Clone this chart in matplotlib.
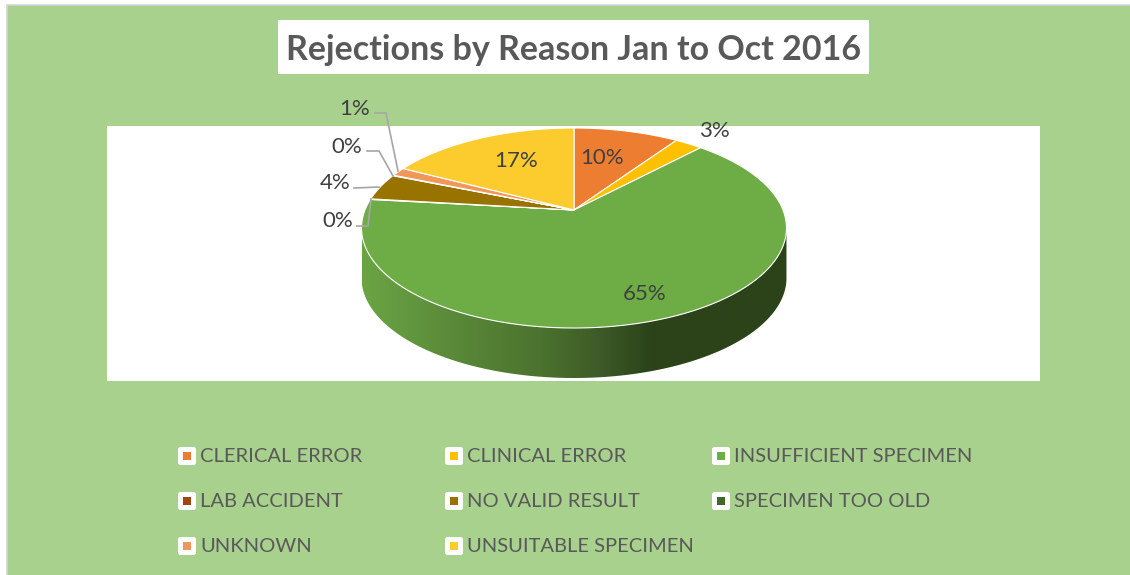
"""
Rejections by reason, drawn as a tilted 3D-looking pie on a pixel-sized canvas.
"""

import numpy as np
import matplotlib
matplotlib.use("Agg")
import matplotlib.pyplot as plt
from matplotlib.colors import LinearSegmentedColormap
from matplotlib.patches import FancyBboxPatch, Polygon, Rectangle

# ── Data ───────────────────────────────────────────────────────────────────────
reasons = ["CLERICAL ERROR", "CLINICAL ERROR", "INSUFFICIENT SPECIMEN",
           "LAB ACCIDENT", "NO VALID RESULT", "SPECIMEN TOO OLD",
           "UNKNOWN", "UNSUITABLE SPECIMEN"]
shares = [9.5, 2.5, 64.7, 0.1, 4.3, 0.1, 1.4, 17.3]
share_labels = ["10%", "3%", "65%", "0%", "4%", "0%", "1%", "17%"]
title = "Rejections by Reason Jan to Oct 2016"

# ── Style and layout ───────────────────────────────────────────────────────────
colors = ["#ED7D31", "#FFC000", "#6EAC46", "#9E480E",
          "#997300", "#43682B", "#F1975A", "#FCCB2E"]
FONT = "Lato"
BG = "#A9D18E"
LEGEND_TEXT = "#595959"
LABEL_TEXT = "#404040"
LEADER = "#A6A6A6"

label_xy = [(602, 158), (714, 131), (645, 294), (338, 221),
            (335, 183), (347, 147), (355, 109), (516, 161)]
leaders = {
    3: [(357, 226), (368, 226), (371, 199)],
    4: [(354, 188), (379, 187)],
    5: [(367, 151), (379, 151), (393, 176)],
    6: [(375, 113), (386, 113), (398, 171)],
}
legend_x = [178, 445, 712]
legend_y = [456, 501, 546]

# pie geometry in pixels
CX, CY = 574, 210
A, B, K = 209.0, 96.76, 0.18   # half width, half height, perspective strength
DEPTH = 50


def project(theta):
    """Map clockwise-from-top angles (radians) onto the tilted disc."""
    u, v = np.sin(theta), np.cos(theta)
    w = 1 + K * v
    return CX + A * u / w, CY - B * v / w


# ── Canvas ─────────────────────────────────────────────────────────────────────
fig = plt.figure(figsize=(11.3, 5.75), dpi=100, facecolor="white")
ax = fig.add_axes([0, 0, 1, 1])
ax.axis("off")

ax.add_patch(Rectangle((6.5, 4.5), 1130, 580, facecolor=BG,
                       edgecolor="#D4D4D4", linewidth=1.2))
ax.add_patch(Rectangle((107, 126), 933, 255, facecolor="white", edgecolor="none"))
ax.add_patch(Rectangle((278, 20), 591, 54, facecolor="white", edgecolor="none"))
ax.text(573.5, 49.5, title, fontsize=24.5, fontweight="bold", family=FONT,
        color=LEGEND_TEXT, ha="center", va="center")

# ── Pie side wall ──────────────────────────────────────────────────────────────
ring = np.linspace(0, 2 * np.pi, 721)
ring_x, ring_y = project(ring)
right, left = ring_x.argmax(), ring_x.argmin()
arc_x, arc_y = ring_x[right:left + 1], ring_y[right:left + 1]
wall = np.column_stack([np.r_[arc_x, arc_x[::-1]],
                        np.r_[arc_y, arc_y[::-1] + DEPTH]])
wall_patch = Polygon(wall, closed=True, facecolor="none", edgecolor="none")
ax.add_patch(wall_patch)

shade = LinearSegmentedColormap.from_list(
    "wall", [(0.0, "#6AA544"), (0.2, "#5B8B3A"), (0.42, "#4B722E"),
             (0.55, "#3E5C28"), (0.68, "#2C431A"), (1.0, "#2C431A")])
img = ax.imshow(np.linspace(0, 1, 256)[None, :], cmap=shade, aspect="auto",
                extent=(arc_x.min(), arc_x.max(), arc_y.max() + DEPTH, arc_y.min()),
                zorder=2)
img.set_clip_path(wall_patch)

# ── Pie top ────────────────────────────────────────────────────────────────────
edges = np.r_[0, np.cumsum(shares)] / np.sum(shares) * 2 * np.pi
for start, end, color in zip(edges[:-1], edges[1:], colors):
    t = np.linspace(start, end, max(int((end - start) * 120), 2))
    x, y = project(t)
    pts = np.column_stack([np.r_[CX, x], np.r_[CY, y]])
    ax.add_patch(Polygon(pts, closed=True, facecolor=color, edgecolor="white",
                         linewidth=0.8, joinstyle="round", zorder=3))

# ── Data labels and leader lines ───────────────────────────────────────────────
for label, (lx, ly) in zip(share_labels, label_xy):
    ax.text(lx, ly, label, fontsize=16, family=FONT, color=LABEL_TEXT,
            ha="center", va="center", zorder=5)
for path in leaders.values():
    xs, ys = zip(*path)
    ax.plot(xs, ys, color=LEADER, linewidth=1.2, zorder=4)

# ── Legend ─────────────────────────────────────────────────────────────────────
for i, (reason, color) in enumerate(zip(reasons, colors)):
    row, col = divmod(i, 3)
    bx, by = legend_x[col], legend_y[row]
    ax.add_patch(FancyBboxPatch((bx + 1.5, by - 7.5), 15, 15,
                                boxstyle="round,pad=1.5,rounding_size=2.5",
                                facecolor="white", edgecolor="none", zorder=3))
    ax.add_patch(Rectangle((bx + 5, by - 4), 8, 8, facecolor=color,
                           edgecolor="none", zorder=4))
    ax.text(bx + 22, by + 0.5, reason, fontsize=14.5, family=FONT, color=LEGEND_TEXT,
            ha="left", va="center", zorder=4)

ax.set_xlim(0, 1130)
ax.set_ylim(575, 0)
fig.savefig("out.png", dpi=100, facecolor="white")
